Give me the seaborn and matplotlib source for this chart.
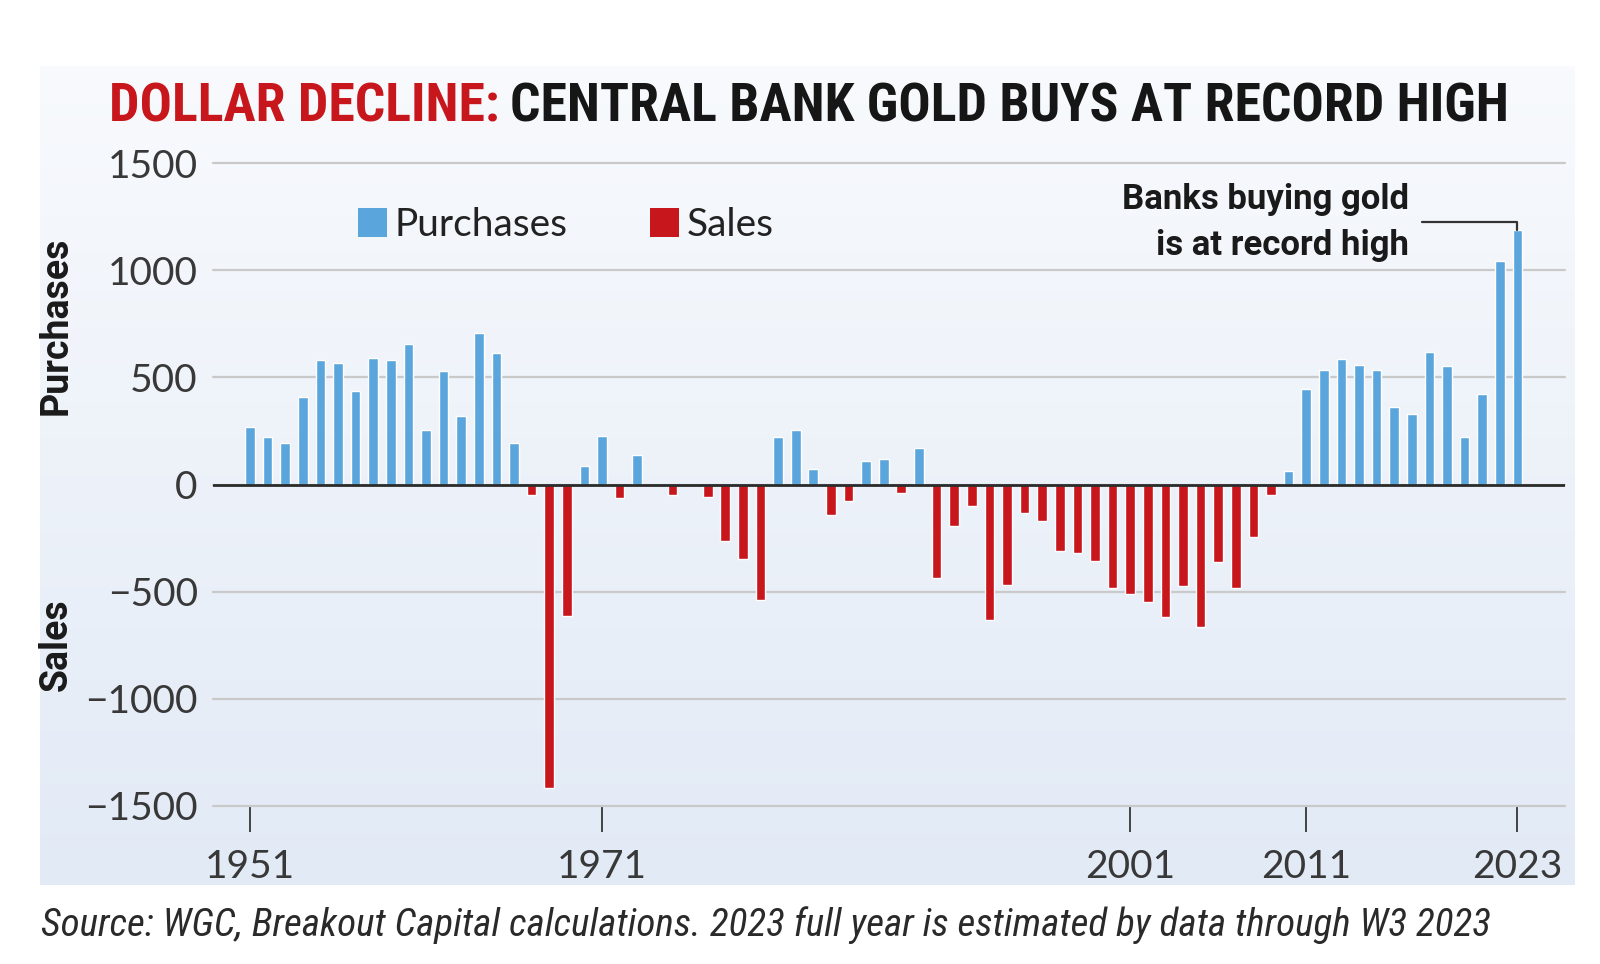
import matplotlib
matplotlib.use("Agg")
import matplotlib.pyplot as plt
import seaborn as sns
import pandas as pd
import numpy as np
from matplotlib.patches import Patch
from matplotlib import font_manager as fm

# net central bank gold purchases (+) / sales (-), tonnes
years = list(range(1951, 2024))
net_tonnes = [266, 223, 192, 408, 581, 567, 435, 592, 583, 657,
              255, 530, 318, 706, 614, 192, -50, -1415, -614, 86,
              226, -61, 139, 0, -48, 0, -58, -262, -349, -539,
              222, 256, 74, -142, -78, 109, 120, -40, 172, -436,
              -193, -99, -632, -471, -134, -168, -308, -321, -355, -481,
              -510, -546, -616, -473, -663, -361, -481, -245, -47, 65,
              445, 536, 585, 558, 534, 360, 329, 619, 553, 222,
              423, 1041, 1187]
tick_years = [1951, 1971, 2001, 2011, 2023]
y_ticks = [1500, 1000, 500, 0, -500, -1000, -1500]
y_labels = ["1500", "1000", "500", "0", "\u2212500", "\u22121000", "\u22121500"]

BLUE = "#5aa6dc"
RED = "#c8161d"
W, H = 1600, 964


def pick(cands):
    names = {f.name for f in fm.fontManager.ttflist}
    for c in cands:
        if c in names:
            return c
    return "DejaVu Sans"


COND = pick(["Liberation Sans Narrow", "Roboto Condensed", "Open Sans Condensed",
             "DejaVu Sans Condensed", "Liberation Sans"])
SANS = pick(["Lato", "Roboto", "DejaVu Sans"])
BOLD = pick(["Roboto", "Inter", "Liberation Sans", "DejaVu Sans"])

sns.set_theme(style="white")
plt.rcParams["font.family"] = [SANS, "DejaVu Sans"]

df = pd.DataFrame({"year": years, "tonnes": net_tonnes})
df["kind"] = np.where(df["tonnes"] >= 0, "Purchases", "Sales")

fig = plt.figure(figsize=(W / 100, H / 100), dpi=100)
fig.patch.set_facecolor("white")

# pale blue gradient panel behind the chart
bg = fig.add_axes([40 / W, 1 - 885 / H, (1575 - 40) / W, (885 - 66) / H], zorder=0)
grad = np.linspace(0, 1, 256).reshape(-1, 1)
top_c = np.array([0xf8, 0xfa, 0xfd]) / 255
bot_c = np.array([0xe2, 0xea, 0xf6]) / 255
img = top_c + grad[..., None] * (bot_c - top_c)
bg.imshow(img, aspect="auto", extent=[0, 1, 0, 1], origin="upper")
bg.set_axis_off()

ax = fig.add_axes([213 / W, 1 - 806 / H, (1565 - 213) / W, (806 - 163) / H], zorder=1)
ax.set_facecolor("none")

sns.barplot(data=df, x="year", y="tonnes", hue="kind",
            palette={"Purchases": BLUE, "Sales": RED}, dodge=False,
            native_scale=True, width=0.55, saturation=1, errorbar=None,
            legend=False, ax=ax, zorder=3)

ax.set_xlim(1948.9, 2025.7)
ax.set_ylim(-1500, 1500)
ax.set_yticks(y_ticks)
ax.set_yticklabels(y_labels)
ax.set_xticks(tick_years)
ax.set_xticklabels([str(y) for y in tick_years])
ax.set_xlabel("")
ax.set_ylabel("")
for s in ax.spines.values():
    s.set_visible(False)

ax.yaxis.grid(True, color="#c9c9c9", lw=1.6)
ax.xaxis.grid(False)
ax.set_axisbelow(True)
for gl in ax.get_ygridlines():
    gl.set_clip_on(False)
ax.axhline(0, color="#2b2b2b", lw=2, zorder=4)

ax.tick_params(axis="y", length=0, pad=11, labelsize=28, labelcolor="#383838")
ax.tick_params(axis="x", bottom=True, direction="out", length=19, width=1.4,
               color="#444444", pad=12, labelsize=28, labelcolor="#383838")

# side labels
fig.text(56 / W, 1 - 326 / H, "Purchases", rotation=90, ha="center", va="center",
         fontsize=27, weight="bold", family=[BOLD, "DejaVu Sans"], color="#1a1a1a")
fig.text(56 / W, 1 - 645 / H, "Sales", rotation=90, ha="center", va="center",
         fontsize=27, weight="bold", family=[BOLD, "DejaVu Sans"], color="#1a1a1a")

# legend
handles = [Patch(facecolor=BLUE, edgecolor="none", label="Purchases"),
           Patch(facecolor=RED, edgecolor="none", label="Sales")]
fig.legend(handles=handles, loc="center left", bbox_to_anchor=(358 / W, 1 - 225 / H),
           ncol=2, frameon=False, prop={"family": [SANS, "DejaVu Sans"], "size": 28},
           labelcolor="#222222", handlelength=0.75, handleheight=0.75,
           handletextpad=0.2, columnspacing=2.1, borderpad=0, borderaxespad=0)

# callout for the 2023 record
ax.annotate("Banks buying gold\nis at record high",
            xy=(years[-1], net_tonnes[-1]), xycoords="data",
            xytext=(1409, H - 222), textcoords="figure pixels",
            ha="right", va="center", multialignment="right",
            fontsize=25, weight="bold", family=[BOLD, "DejaVu Sans"],
            linespacing=1.5, color="#1a1a1a",
            arrowprops=dict(arrowstyle="-", color="#333333", lw=1.6,
                            connectionstyle="angle,angleA=0,angleB=90,rad=0",
                            shrinkA=7, shrinkB=0))

renderer = fig.canvas.get_renderer()

# title in two colours, fitted to the reference width
t1 = fig.text(109 / W, 1 - 122 / H, "DOLLAR DECLINE:", color=RED, fontsize=50,
              weight="bold", family=[COND, "DejaVu Sans"], fontstretch="condensed",
              va="baseline", ha="left")
t2 = fig.text(0.5, 1 - 122 / H, "CENTRAL BANK GOLD BUYS AT RECORD HIGH", color="#161616",
              fontsize=50, weight="bold", family=[COND, "DejaVu Sans"],
              fontstretch="condensed", va="baseline", ha="left")
gap = 10
w1 = t1.get_window_extent(renderer).width
w2 = t2.get_window_extent(renderer).width
scale = (1508 - 109 - gap) / (w1 + w2)
for t in (t1, t2):
    t.set_fontsize(50 * scale)
w1 = t1.get_window_extent(renderer).width
t2.set_x((109 + w1 + gap) / W)

# source line
cap = fig.text(41 / W, 1 - 936 / H,
               "Source: WGC, Breakout Capital calculations. 2023 full year is estimated by data through W3 2023",
               fontsize=24, style="italic", family=[COND, "DejaVu Sans"], fontstretch="condensed",
               color="#2a2a2a", va="baseline", ha="left")
wc = cap.get_window_extent(renderer).width
cap.set_fontsize(24 * (1493 - 41) / wc)

fig.savefig("out.png", dpi=100, facecolor="white")
